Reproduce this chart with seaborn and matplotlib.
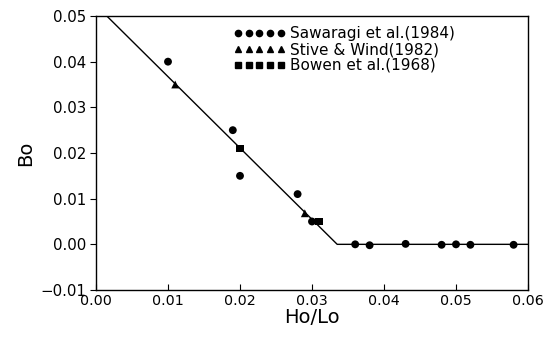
import matplotlib
matplotlib.use("Agg")
import matplotlib.pyplot as plt
import seaborn as sns
import pandas as pd
from matplotlib.lines import Line2D

# Data
saw_x = [0.010, 0.019, 0.020, 0.028, 0.030, 0.036, 0.038, 0.043, 0.048, 0.050, 0.052, 0.058]
saw_y = [0.040, 0.025, 0.015, 0.011, 0.005, 0.000, -0.0002, 0.0001, -0.0001, 0.0000, -0.0001, -0.0001]
stive_x = [0.011, 0.029]
stive_y = [0.035, 0.0068]
bowen_x = [0.020, 0.031]
bowen_y = [0.021, 0.005]
fit_x = [0.0015, 0.0335, 0.060]
fit_y = [0.050, 0.000, 0.000]

labels = ["Sawaragi et al.(1984)", "Stive & Wind(1982)", "Bowen et al.(1968)"]

df = pd.DataFrame({
    "x": saw_x + stive_x + bowen_x,
    "y": saw_y + stive_y + bowen_y,
    "src": [labels[0]] * len(saw_x) + [labels[1]] * len(stive_x) + [labels[2]] * len(bowen_x),
})
fit = pd.DataFrame({"x": fit_x, "y": fit_y})

sns.set_style("ticks")
plt.rcParams["font.family"] = ["DejaVu Sans"]
plt.rcParams["text.color"] = "black"
plt.rcParams["axes.labelcolor"] = "black"

fig = plt.figure(figsize=(5.43, 3.38), dpi=100)
ax = fig.add_axes([96 / 543, 1 - 290 / 338, (528 - 96) / 543, (290 - 16) / 338])

sns.lineplot(data=fit, x="x", y="y", color="black", lw=1.0, ax=ax, legend=False)
markers = {labels[0]: "o", labels[1]: "^", labels[2]: "s"}
sns.scatterplot(data=df, x="x", y="y", style="src", markers=markers, color="black",
                s=32, edgecolor="black", linewidth=0, ax=ax, legend=False, zorder=3)

ax.set_xlim(0.0, 0.06)
ax.set_ylim(-0.01, 0.05)
ax.set_xticks([0.00, 0.01, 0.02, 0.03, 0.04, 0.05, 0.06])
ax.set_yticks([-0.01, 0.00, 0.01, 0.02, 0.03, 0.04, 0.05])
ax.set_xticklabels(["0.00", "0.01", "0.02", "0.03", "0.04", "0.05", "0.06"])
ax.set_yticklabels(["\u22120.01", "0.00", "0.01", "0.02", "0.03", "0.04", "0.05"])
ax.tick_params(axis="x", direction="in", length=4, width=0.8, labelsize=10.3, pad=3, colors="black")
ax.tick_params(axis="y", direction="out", length=4, width=0.8, labelsize=10.8, pad=3, colors="black")
for sp in ax.spines.values():
    sp.set_visible(True)
    sp.set_linewidth(1.0)
    sp.set_color("black")

ax.set_xlabel("Ho/Lo", fontsize=14, labelpad=0, color="black")
ax.set_ylabel("Bo", fontsize=14, labelpad=4, color="black")

handles = [Line2D([], [], marker=m, color="black", linestyle="none", markersize=4.5)
           for m in ["o", "^", "s"]]
leg = ax.legend(handles, labels, numpoints=5, frameon=False, loc="upper left",
                bbox_to_anchor=(0.318, 0.962), fontsize=11, handlelength=3.4,
                handletextpad=0.3, labelspacing=0.05, borderpad=0, borderaxespad=0)
for t in leg.get_texts():
    t.set_color("black")

fig.savefig("out.png", dpi=100)
